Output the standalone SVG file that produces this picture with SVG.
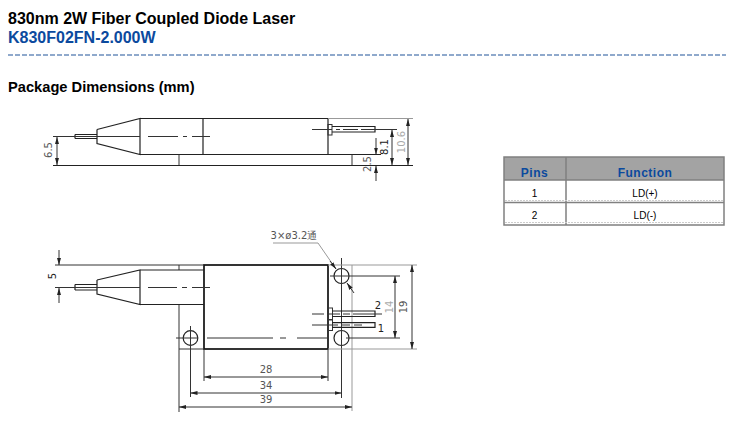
<svg xmlns="http://www.w3.org/2000/svg" width="736" height="427" viewBox="0 0 736 427">
<style>
.t{font-family:"Liberation Sans",Arial,sans-serif;font-weight:bold;font-size:16px;fill:#000}
.p{font-size:14.67px}
.b{fill:#0b4a9e}
.l{fill:none;stroke:#333;stroke-width:1}
.h{fill:none;stroke:#222;stroke-width:1.2}
.x{fill:none;stroke:#111;stroke-width:1.7}
.g{fill:none;stroke:#999;stroke-width:1}
.n{font-family:"DejaVu Sans",sans-serif;font-size:10px;fill:#555;text-anchor:middle}
.f{fill:#aaa}
.k{fill:#222}
.c{font-family:"Liberation Sans",Arial,sans-serif;font-size:10px;fill:#000;text-anchor:middle}
.th{font-family:"Liberation Sans",Arial,sans-serif;font-weight:bold;font-size:12px;fill:#0b4a9e;text-anchor:middle;letter-spacing:.5px}
.r{stroke:#808080;stroke-width:1.5;fill:none}
.dl{stroke:#ccc;stroke-width:1;stroke-dasharray:2 1}
</style>
<defs>
<marker id="a" markerWidth="7" markerHeight="4" refX="7" refY="2" orient="auto-start-reverse" markerUnits="userSpaceOnUse"><path d="M0 0L7 2L0 4Z" fill="#222"/></marker>
</defs>
<rect width="736" height="427" fill="#fff"/>
<g id="heading">
<text class="t" x="8" y="24">830nm 2W Fiber Coupled Diode Laser</text>
<text class="t b" x="8" y="43">K830F02FN-2.000W</text>
<line x1="8" y1="55" x2="726" y2="55" stroke="#8fa9cc" stroke-width="2" stroke-dasharray="5 2"/>
<text class="t p" x="8" y="92">Package Dimensions (mm)</text>
</g>
<g id="top-view">
<path class="h" d="M75 134.500H97M75 138.500H97M75 134.500V138.500"/>
<path class="h" d="M97 129.500V143.500L140 154.500V118.500L97 129.500"/>
<path class="h" d="M140 118.500H328M140 154.500H381M203 118.500V154.500M328 118.500V154.500"/>
<path class="l" d="M179 154.500V165.500M352 154.500V165.500"/>
<rect class="l" x="328" y="124.500" width="4" height="10.500"/>
<path class="h" d="M332 126.500H375V132H332"/>
<path class="l" d="M312 129.500H332M336 129.500H340M343 129.500H358M361 129.500H397"/>
<path class="l" d="M53 136.500H140M148 136.500H178M183 136.500H187M192 136.500H210"/>
<path class="h" d="M53 165.500H413"/>
<path class="g" d="M328 118.500H413"/>
</g>
<g id="bottom-view">
<rect class="x" x="204" y="265" width="124" height="84"/>
<path class="l" d="M55 265H204M179 265V270M179 304.500V349H204M55 287.500H74"/>
<path class="h" d="M75 284.500H97M75 290H97M75 284.500V290"/>
<path class="h" d="M97 280V294L140 304.500V270L97 280M140 270H204M140 304.500H204"/>
<path class="l" d="M74 287.500H140M148 287.500H177M182 287.500H187M192 287.500H210"/>
<circle class="h" cx="190.500" cy="338" r="7.300"/>
<circle class="h" cx="341.500" cy="276" r="7.500"/>
<circle class="h" cx="341.500" cy="338" r="7.500"/>
<path class="l" d="M176 338H198"/>
<path class="l" d="M207 338H273M280 338H286M297 338H328"/>
<path class="l" d="M190.500 326V397M179 349V412M204 349V381"/>
<path class="l" d="M328 349V381M341.500 258V398"/>
<path class="g" d="M352 265V411M328 265H417M328 349H417"/>
<path class="l" d="M330 276H400M346 338H400"/>
<rect class="l" x="328" y="308" width="4.500" height="12"/>
<rect class="l" x="328" y="319.500" width="4.500" height="11"/>
<path class="h" d="M332 311H375V316.500H332M332 322.700H375V327.300H332"/>
<path class="l" d="M312 314H324M328 314H340M343 314H350M353 314H382"/>
<path class="l" d="M312 325H338M342 325H350M354 325H362"/>
</g>
<g id="connectors">
<path class="l" d="M57 137V165" marker-start="url(#a)" marker-end="url(#a)"/>
<path class="l" d="M392 130V165" marker-start="url(#a)" marker-end="url(#a)"/>
<path class="l" d="M408 119V165" marker-start="url(#a)" marker-end="url(#a)"/>
<path class="l" d="M376 138V154.500" marker-end="url(#a)"/>
<path class="l" d="M376 181V166" marker-end="url(#a)"/>
<path class="l" d="M59 250V265" marker-end="url(#a)"/>
<path class="l" d="M59 303V288" marker-end="url(#a)"/>
<path class="l" d="M204 377H328" marker-start="url(#a)" marker-end="url(#a)"/>
<path class="l" d="M190.500 393H341.500" marker-start="url(#a)" marker-end="url(#a)"/>
<path class="l" d="M179 407H352" marker-start="url(#a)" marker-end="url(#a)"/>
<path class="l" d="M395 276V338" marker-start="url(#a)" marker-end="url(#a)"/>
<path class="l" d="M412 265V349" marker-start="url(#a)" marker-end="url(#a)"/>
<path class="g" d="M273 243H318L336 269"/>
<path class="l" d="M330 261L336 269" marker-end="url(#a)"/>
<path class="l" d="M354 293L347 283" marker-end="url(#a)"/>
</g>
<g id="dimension-labels">
<text class="n" transform="translate(52 150) rotate(-90)">6.5</text>
<text class="n k" transform="translate(388 147) rotate(-90)">8.1</text>
<text class="n f" transform="translate(405 142) rotate(-90)">10.6</text>
<text class="n" transform="translate(371 164) rotate(-90)">2.5</text>
<text class="n k" transform="translate(56 276) rotate(-90)">5</text>
<text class="n" x="294" y="239">3×ø3.2通</text>
<text class="n" x="266" y="373">28</text>
<text class="n" x="266" y="389">34</text>
<text class="n" x="266" y="403">39</text>
<text class="n f" transform="translate(393 307) rotate(-90)">14</text>
<text class="n" transform="translate(407 307) rotate(-90)">19</text>
<text class="n k" x="378" y="309">2</text>
<text class="n k" x="381" y="332">1</text>
</g>
<g id="pin-table">
<rect x="504" y="157" width="220" height="23" fill="#a3a3a3"/>
<path class="r" d="M504 157H724V225H504ZM566 157V225M504 180H724M504 202.500H724"/>
<text class="th" x="534.500" y="177">Pins</text>
<text class="th" x="645" y="177">Function</text>
<text class="c" x="534.500" y="197">1</text>
<text class="c" x="645" y="197">LD(+)</text>
<text class="c" x="534.500" y="219">2</text>
<text class="c" x="645" y="219">LD(-)</text>
<path class="dl" d="M505 200.500H723M505 222.500H723"/>
</g>
</svg>
